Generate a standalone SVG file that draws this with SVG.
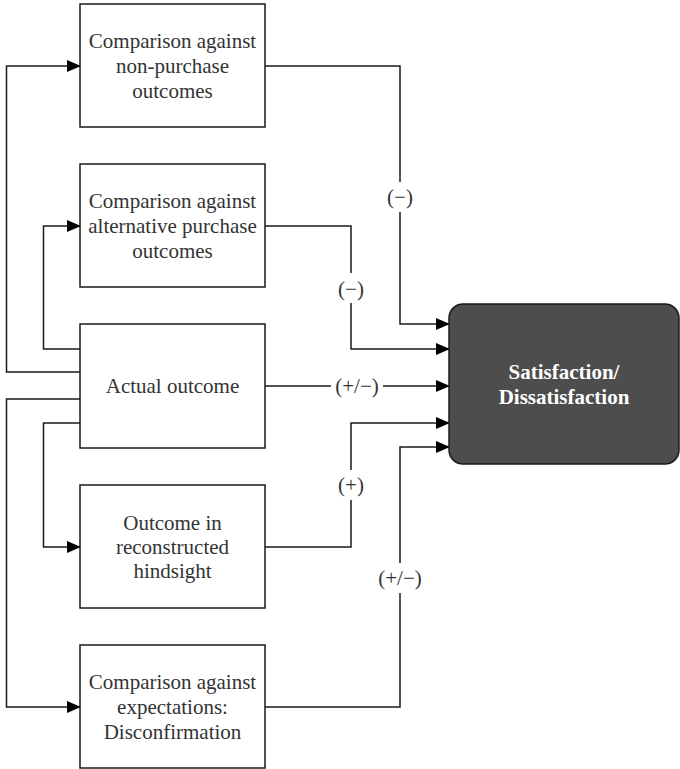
<svg xmlns="http://www.w3.org/2000/svg" width="680" height="769" viewBox="0 0 680 769" font-family="Liberation Serif, Times New Roman, serif" font-size="21">
<style>
.box{fill:#fff;stroke:#1a1a1a;stroke-width:1.5}
.sat{fill:#4d4d4d;stroke:#1a1a1a;stroke-width:1.5}
text{font-family:"Liberation Serif","Times New Roman",serif;font-size:21px;text-anchor:middle}
.t{fill:#333}
.tb{font-weight:bold;fill:#fff}
.c{fill:none;stroke:#1a1a1a;stroke-width:1.5}
.bg{fill:#fff}
</style>
<defs>
<marker id="ah" markerWidth="14" markerHeight="12" refX="13" refY="6" orient="auto" markerUnits="userSpaceOnUse">
<path d="M0,0 L14,6 L0,12 z" fill="#000"/>
</marker>
</defs>
<g id="connectors">
<path class="c" d="M265,66 H400 V324 H449" marker-end="url(#ah)"/>
<path class="c" d="M265,226 H351 V349 H449" marker-end="url(#ah)"/>
<path class="c" d="M265,386 H449" marker-end="url(#ah)"/>
<path class="c" d="M265,547 H351 V423 H449" marker-end="url(#ah)"/>
<path class="c" d="M265,707 H400 V447 H449" marker-end="url(#ah)"/>
<path class="c" d="M80,372 H6.5 V66 H80" marker-end="url(#ah)"/>
<path class="c" d="M80,349 H43.5 V226 H80" marker-end="url(#ah)"/>
<path class="c" d="M80,399 H6.5 V707 H80" marker-end="url(#ah)"/>
<path class="c" d="M80,423 H43.5 V547 H80" marker-end="url(#ah)"/>
<rect class="bg" x="386" y="182" width="28" height="30"/>
<text class="t" x="400" y="204">(−)</text>
<rect class="bg" x="337" y="273" width="28" height="30"/>
<text class="t" x="351" y="296">(−)</text>
<rect class="bg" x="331" y="371" width="52" height="30"/>
<text class="t" x="357" y="393">(+/−)</text>
<rect class="bg" x="337" y="470" width="28" height="30"/>
<text class="t" x="351" y="492">(+)</text>
<rect class="bg" x="374" y="563" width="52" height="30"/>
<text class="t" x="400" y="585">(+/−)</text>
</g>
<g id="n1">
<rect class="box" x="80" y="4" width="185" height="123"/>
<text class="t" x="172.5" y="48">Comparison against</text>
<text class="t" x="172.5" y="73">non-purchase</text>
<text class="t" x="172.5" y="98">outcomes</text>
</g>
<g id="n2">
<rect class="box" x="80" y="164" width="185" height="123"/>
<text class="t" x="172.5" y="208">Comparison against</text>
<text class="t" x="172.5" y="233">alternative purchase</text>
<text class="t" x="172.5" y="258">outcomes</text>
</g>
<g id="n3">
<rect class="box" x="80" y="324" width="185" height="124"/>
<text class="t" x="172.5" y="393">Actual outcome</text>
</g>
<g id="n4">
<rect class="box" x="80" y="485" width="185" height="123"/>
<text class="t" x="172.5" y="530">Outcome in</text>
<text class="t" x="172.5" y="554">reconstructed</text>
<text class="t" x="172.5" y="578">hindsight</text>
</g>
<g id="n5">
<rect class="box" x="80" y="645" width="185" height="123"/>
<text class="t" x="172.5" y="689">Comparison against</text>
<text class="t" x="172.5" y="714">expectations:</text>
<text class="t" x="172.5" y="739">Disconfirmation</text>
</g>
<g id="sat">
<rect class="sat" x="449" y="304" width="230" height="160" rx="14"/>
<text class="tb" x="564" y="379">Satisfaction/</text>
<text class="tb" x="564" y="404">Dissatisfaction</text>
</g>
</svg>
